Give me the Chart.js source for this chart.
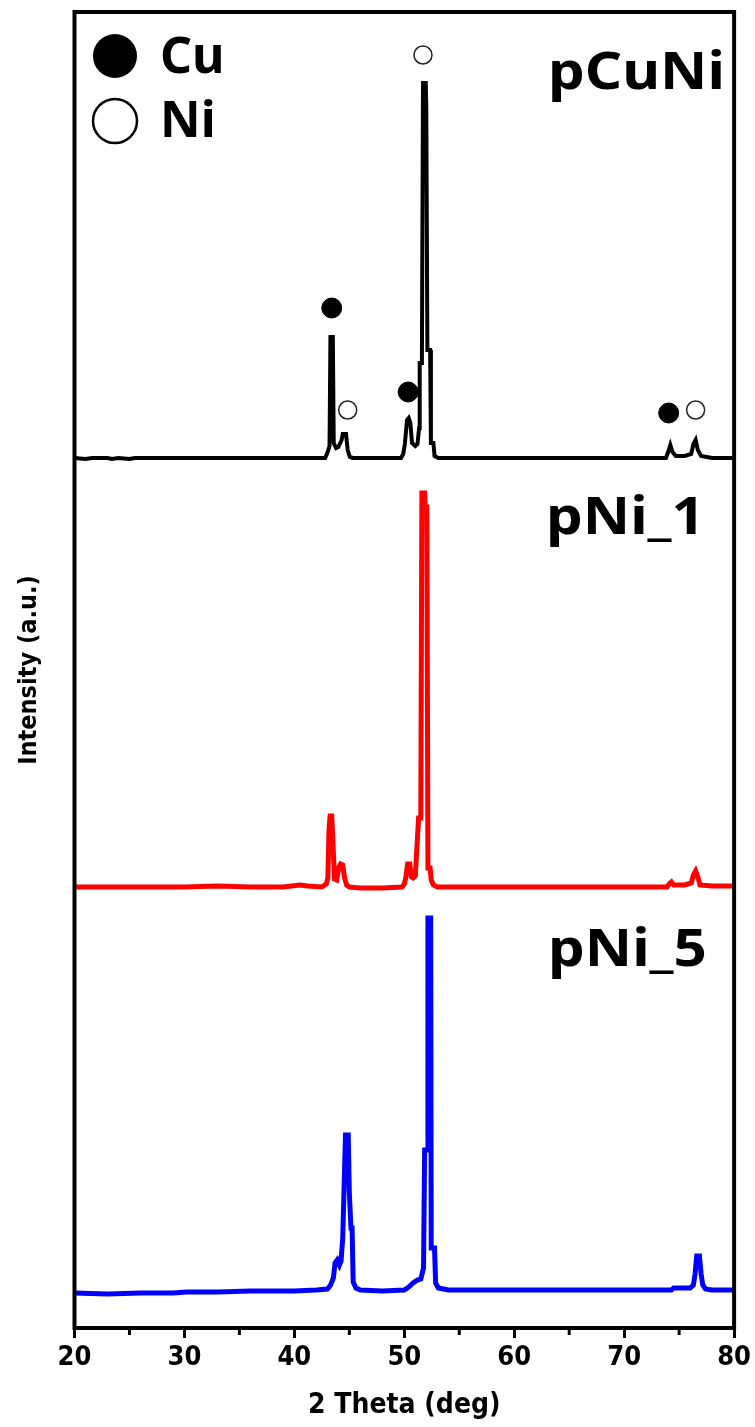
<!DOCTYPE html>
<html lang="en">
<head>
<meta charset="UTF-8">
<title>XRD</title>
<style>
  html, body { margin: 0; padding: 0; background: #fff; }
  #wrap { width: 755px; height: 1427px; }
</style>
</head>
<body>
<div id="wrap"><canvas id="myChart" width="755" height="1427"></canvas></div>
<script src="https://cdn.jsdelivr.net/npm/chart.js@4.4.1/dist/chart.umd.min.js"></script>
<script>
// x ticks
const xMin = 20, xMax = 80;
const minorTicks = [25, 35, 45, 55, 65, 75];

// intensities above each curve's own baseline [2theta, a.u.]
const pCuNi = [[20,0],[21,-1],[21.6,0],[23,0],[23.4,-1],[24,0],[25,-1],[25.5,0],[27,0],[30,0],[33,0],[36,0],[40,0],[42.8,0],[43.0,5],[43.2,12],
  [43.28,121],[43.5,121],[43.58,15],[43.8,10],[44.0,11],[44.3,18],[44.4,24],[44.7,24],[44.85,8],[45.05,1],[45.3,0],
  [47,0],[49.7,0],[49.9,4],[50.05,14],[50.25,38],[50.4,40],[50.55,35],[50.7,15],[51.0,12],[51.2,14],[51.35,30],
  [51.4,95],[51.6,95],[51.7,375],[51.95,375],[52.0,350],[52.1,108],[52.35,108],[52.42,15],[52.65,15],[52.75,2],[53.1,0],
  [56,0],[60,0],[65,0],[70,0],[73.8,0],[74.0,6],[74.2,13],[74.4,6],[74.7,2],[75.5,2],[76.1,4],[76.3,14],[76.5,18],
  [76.7,8],[77.0,2],[78,0],[80,0]];

const pNi1 = [[20,0],[25,0],[30,0],[33,1],[36,0],[39,0],[40.5,2],[41.2,1],[42.5,0],[42.9,3],[43.05,9],[43.15,57],
  [43.25,71],[43.4,71],[43.5,47],[43.65,8],[43.85,7],[44.05,20],[44.2,23],[44.4,22],[44.55,10],[44.75,2],[45,0],
  [46,-1],[48,-1],[49.8,0],[50.0,3],[50.15,10],[50.3,23],[50.5,23],[50.65,10],[50.8,9],[51.0,11],[51.3,69],
  [51.5,69],[51.6,394],[51.85,394],[51.9,380],[52.05,380],[52.15,19],[52.35,19],[52.45,7],[52.65,2],[53,0],
  [56,0],[60,0],[65,0],[70,0],[73.9,0],[74.1,3],[74.3,5],[74.5,2],[75.5,2],[76.1,4],[76.3,12],[76.5,16],[76.7,10],
  [76.9,2],[78,1],[80,1]];

const pNi5 = [[20,0],[23,-1],[26,0],[29,0],[30.2,1],[33,1],[36,2],[40,2],[42,3],[43.0,4],[43.3,8],[43.55,15],
  [43.7,30],[43.9,33],[44.1,28],[44.25,32],[44.4,55],[44.65,158],[44.9,158],[45.0,100],[45.15,65],[45.25,65],
  [45.35,11],[45.6,5],[46,3],[48,2],[50.0,3],[50.4,6],[50.8,10],[51.2,13],[51.5,14],[51.75,25],[51.85,143],
  [52.1,143],[52.15,375],[52.4,375],[52.45,45],[52.75,45],[52.85,10],[53.1,5],[54,3],[58,3],[62,3],[66,3],
  [70,3],[74.3,3],[74.5,5],[76.0,5],[76.3,8],[76.45,19],[76.6,37],[76.85,37],[77.0,19],[77.15,8],[77.4,4],[78,3],[80,3]];

// vertical stacking of the three patterns
const offCuNi = 870, offNi1 = 441, offNi5 = 35;

// phase markers above the pCuNi peaks (height above its baseline)
const cuMarkX = [43.4, 50.35, 74.05];
const cuMarkY = [150, 66, 45];
const niMarkX = [44.85, 51.7, 76.5];
const niMarkY = [48, 403, 48];

function shift(arr, off) {
  return arr.map(p => ({ x: p[0], y: p[1] + off }));
}
function marks(xs, ys, off) {
  return xs.map((v, i) => ({ x: v, y: ys[i] + off }));
}

// draws text stretched sideways a little (the original lettering is wide)
function wideText(ctx, txt, x, y, sx) {
  ctx.save();
  ctx.translate(x, y);
  ctx.scale(sx, 1);
  ctx.fillText(txt, 0, 0);
  ctx.restore();
}

const decor = {
  id: 'decor',
  afterDraw(chart) {
    const ctx = chart.ctx;
    const a = chart.chartArea;
    const x = chart.scales.x;
    ctx.save();
    ctx.strokeStyle = '#000';
    ctx.lineWidth = 4;
    ctx.strokeRect(a.left, a.top, a.right - a.left, a.bottom - a.top);
    ctx.lineWidth = 3;
    minorTicks.forEach(v => {
      const px = x.getPixelForValue(v);
      ctx.beginPath();
      ctx.moveTo(px, a.bottom);
      ctx.lineTo(px, a.bottom + 7);
      ctx.stroke();
    });

    // sample names
    ctx.fillStyle = '#000';
    ctx.font = 'bold 52px "Noto Sans"';
    ctx.textBaseline = 'alphabetic';
    wideText(ctx, 'pCuNi', 548, 89, 1.12);
    wideText(ctx, 'pNi_1', 546, 534, 1.12);
    wideText(ctx, 'pNi_5', 548, 966, 1.12);

    // legend
    ctx.beginPath();
    ctx.arc(115, 56, 22, 0, Math.PI * 2);
    ctx.fill();
    ctx.beginPath();
    ctx.lineWidth = 2.5;
    ctx.arc(115, 121, 22, 0, Math.PI * 2);
    ctx.stroke();
    ctx.font = 'bold 50px "Noto Sans"';
    ctx.fillText('Cu', 160, 73);
    ctx.fillText('Ni', 160, 137);
    ctx.restore();
  }
};

const ctx = document.getElementById('myChart').getContext('2d');
const myChart = new Chart(ctx, {
  type: 'line',
  data: {
    datasets: [
      { label: 'pCuNi', data: shift(pCuNi, offCuNi), borderColor: '#000', borderWidth: 4, pointRadius: 0 },
      { label: 'pNi_1', data: shift(pNi1, offNi1), borderColor: '#ff0000', borderWidth: 5, pointRadius: 0 },
      { label: 'pNi_5', data: shift(pNi5, offNi5), borderColor: '#0000ff', borderWidth: 5, pointRadius: 0 },
      { label: 'Cu', type: 'scatter', data: marks(cuMarkX, cuMarkY, offCuNi), pointRadius: 10,
        pointBackgroundColor: '#000', pointBorderColor: '#000', pointBorderWidth: 1 },
      { label: 'Ni', type: 'scatter', data: marks(niMarkX, niMarkY, offCuNi), pointRadius: 9,
        pointBackgroundColor: '#fff', pointBorderColor: '#222', pointBorderWidth: 1.5 }
    ]
  },
  options: {
    responsive: false,
    devicePixelRatio: 1,
    animation: false,
    layout: { padding: { top: 12, right: 18, left: 0, bottom: 0 } },
    plugins: { legend: { display: false }, tooltip: { enabled: false } },
    elements: { line: { tension: 0 } },
    scales: {
      x: {
        type: 'linear',
        min: xMin,
        max: xMax,
        afterFit: s => { s.height = 99; },
        border: { display: false },
        grid: { drawOnChartArea: false, tickLength: 10, color: '#000', lineWidth: 3 },
        ticks: {
          stepSize: 10,
          color: '#000',
          padding: 4,
          font: { family: '"DejaVu Sans Condensed", sans-serif', size: 27, weight: 'bold' }
        },
        title: {
          display: true,
          text: '2 Theta (deg)',
          color: '#000',
          padding: { top: 0, bottom: 4 },
          font: { family: '"DejaVu Sans Condensed", sans-serif', size: 28, weight: 'bold' }
        }
      },
      y: {
        min: 0,
        max: 1316,
        afterFit: s => { s.width = 74.5; },
        border: { display: false },
        grid: { display: false },
        ticks: { display: false },
        title: {
          display: true,
          text: 'Intensity (a.u.)',
          color: '#000',
          padding: { top: 14, bottom: 0 },
          font: { family: '"DejaVu Sans Condensed", sans-serif', size: 25, weight: 'bold' }
        }
      }
    }
  },
  plugins: [decor]
});
</script>
</body>
</html>
